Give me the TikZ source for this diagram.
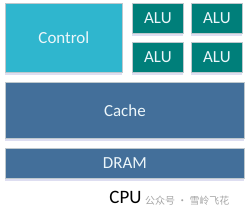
\documentclass[tikz,border=0pt]{standalone}
\usepackage{fontspec}
\setmainfont{Carlito}
\newfontfamily\cjk{Noto Sans CJK SC}
\usetikzlibrary{positioning, shadows}
\definecolor{ctrlcyan}{RGB}{47,182,206}
\definecolor{aluteal}{RGB}{0,127,122}
\definecolor{memblue}{RGB}{67,111,154}
\definecolor{edgegray}{RGB}{190,200,205}
\definecolor{txtwhite}{RGB}{236,246,250}

\begin{document}
\begin{tikzpicture}[
    x=1bp, y=-1bp,
    block/.style={
        rectangle,
        draw=edgegray,
        line width=0.8bp,
        inner sep=0pt,
        anchor=north west,
        text=txtwhite,
        font=\fontsize{17}{19}\selectfont,
        drop shadow={shadow xshift=0bp, shadow yshift=-2.5bp, opacity=0.18, fill=blue!40!gray},
    },
    ctrl/.style={block, fill=ctrlcyan, minimum width=117bp, minimum height=69bp},
    alu/.style={block, fill=aluteal, minimum width=51bp, minimum height=30bp},
    mem/.style={block, fill=memblue, minimum width=239bp},
    caption/.style={font=\fontsize{19}{21}\selectfont, text=black, inner sep=0pt}
]
\fill[white] (0,0) rectangle (251,216);

\node[ctrl] (Ctrl) at (5,3) {Control};
\node[alu] (A1) at (132,3) {ALU};
\node[alu] (A2) at (191,3) {ALU};
\node[alu] (A3) at (132,42) {ALU};
\node[alu] (A4) at (191,42) {ALU};
\node[mem, minimum height=56bp] (Cache) at (5,82) {Cache};
\node[mem, minimum height=30bp] (DRAM) at (5,148) {DRAM};

\node[caption] (CPU) at (125.5,197) {CPU};
\node[font=\cjk\fontsize{10}{12}\selectfont, text=black!35, inner sep=0pt, anchor=west] (mark) at (145,201) {公众号 · 雪岭飞花};
\end{tikzpicture}
\end{document}
